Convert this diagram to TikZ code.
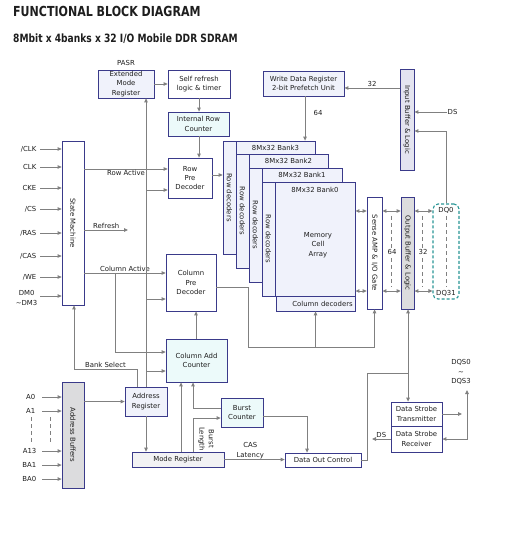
\documentclass[tikz,border=0pt]{standalone}
\usepackage{fontspec}
\setmainfont{DejaVu Sans}
\usepackage{graphicx}
\usetikzlibrary{arrows.meta,calc}
\definecolor{bord}{RGB}{58,58,138}
\definecolor{lin}{RGB}{128,128,128}
\definecolor{flav}{RGB}{240,242,251}
\definecolor{fcy}{RGB}{236,250,250}
\definecolor{fgr}{RGB}{220,220,222}
\definecolor{flg}{RGB}{242,242,244}
\definecolor{fib}{RGB}{228,228,240}
\definecolor{teal2}{RGB}{40,150,150}
\definecolor{txt}{RGB}{30,30,30}
\newcommand\bodyfont{\fontsize{6.9}{9.3}\selectfont}
\newcommand\mybox[7][]{%
  \node[box,#1,minimum width={(#5-#3)*1pt},minimum height={(#6-#4)*1pt}] (#2) at ({(#3+#5)/2},{(#4+#6)/2}) {#7};}
\tikzset{
  box/.style={draw=bord, line width=0.8pt, fill=white, inner sep=1pt, align=center, font=\bodyfont, text=txt},
  ln/.style={draw=lin, line width=0.9pt},
  arr/.style={ln, -{Triangle[length=4pt,width=3.6pt]}},
  darr/.style={ln, {Triangle[length=4pt,width=3.6pt]}-{Triangle[length=4pt,width=3.6pt]}},
  lbl/.style={font=\bodyfont, text=txt, inner sep=0.5pt, align=center},
}
\begin{document}
\begin{tikzpicture}[x=1pt,y=-1pt]
\fill[white] (0,0) rectangle (523,534);
\useasboundingbox (0,0) rectangle (523,534);

% titles
\node[anchor=base west, inner sep=0, text=txt] (title) at (13,17) {\scalebox{0.8}[1]{\fontsize{13.8}{16}\selectfont\bfseries FUNCTIONAL BLOCK DIAGRAM}};
\node[anchor=base west, inner sep=0, text=txt] (subtitle) at (13,43) {\scalebox{0.8}[1]{\fontsize{11.4}{14}\selectfont\bfseries 8Mbit x 4banks x 32 I/O Mobile DDR SDRAM}};

% boxes
\mybox[fill=flav]{emr}{98}{70}{154}{98}{Extended\\Mode\\Register}
\node[lbl] (pasr) at (126,63) {PASR};
\mybox{srl}{168}{70}{230}{98}{Self refresh\\logic \& timer}
\mybox[fill=fcy]{irc}{168}{112}{229}{136}{Internal Row\\Counter}
\mybox{rpd}{168}{158}{212}{198}{Row\\Pre\\Decoder}
\mybox{sm}{62}{141}{84}{305}{}
\node[lbl,rotate=-90] (smt) at (sm.center) {State Machine};
\mybox{cpd}{166}{254}{216}{311}{Column\\Pre\\Decoder}
\mybox[fill=fcy]{cac}{166}{339}{227}{382}{Column Add\\Counter}
\mybox[fill=fgr]{ab}{62}{382}{84}{488}{}
\node[lbl,rotate=-90] (abt) at (ab.center) {Address Buffers};
\mybox[fill=flav]{ar}{125}{387}{167}{416}{Address\\Register}
\mybox[fill=flg]{mr}{132}{452}{224}{467}{Mode Register}
\mybox[fill=fcy]{bc}{221}{398}{263}{427}{Burst\\Counter}
\mybox{doc}{285}{453}{361}{467}{Data Out Control}
\mybox{dst}{391}{402}{442}{426}{Data Strobe\\Transmitter}
\mybox{dsr}{391}{426}{442}{452}{Data Strobe\\Receiver}
\mybox[fill=flav]{wdr}{263}{71}{344}{96}{Write Data Register\\2-bit Prefetch Unit}
\mybox[fill=fib]{ib}{400}{69}{414}{170}{}
\node[lbl,rotate=-90] (ibt) at (ib.center) {Input Buffer \& Logic};
\mybox{sa}{367}{197}{382}{309}{}
\node[lbl,rotate=-90] (sat) at (sa.center) {Sense AMP \& I/O Gate};
\mybox[fill=fgr]{ob}{401}{197}{414}{309}{}
\node[lbl,rotate=-90] (obt) at (ob.center) {Output Buffer \& Logic};
\mybox[draw=teal2, line width=1.1pt, dash pattern=on 3pt off 2pt, rounded corners=5pt, fill=none]{dq}{433}{204}{459}{299}{}

% banks
\foreach \n/\L/\T/\B/\R in {3/223/141/254/315, 2/236/154/268/328, 1/249/168/282/342}{
  \mybox[fill=flav]{bank\n}{\L}{\T}{\R}{\B}{}
  \mybox[fill=flav]{rd\n}{\L}{\T}{\L+13}{\B}{}
  \node[lbl] (bl\n) at ({(\L+13+\R)/2},{\T+7}) {8Mx32 Bank\n};
  \node[lbl,rotate=-90] (rdt\n) at (rd\n.center) {Row decoders};
}
\mybox[fill=flav]{bank0}{262}{182}{355}{296}{}
\mybox[fill=flav]{rd0}{262}{182}{275}{296}{}
\node[lbl,rotate=-90] (rdt0) at (rd0.center) {Row decoders};
\node[lbl] (bl0) at (315,190) {8Mx32 Bank0};
\node[lbl] (mca) at (318,245) {Memory\\Cell\\Array};
\mybox[fill=flav]{coldec}{276}{296}{355}{311}{}
\node[lbl,anchor=east] (cdt) at ([xshift=-2pt]coldec.east) {Column decoders};

% helper coordinates
\coordinate (yRA) at (0,169);
\coordinate (yRP) at (0,190);
\coordinate (yRF) at (0,230);
\coordinate (yCA) at (0,273);
\coordinate (yCP) at (0,299);
\coordinate (yC1) at (0,352);
\coordinate (yC2) at (0,371);
\coordinate (yBS) at (0,369);
\coordinate (xA) at (146,0);
\coordinate (xC) at (115,0);
\coordinate (xB) at (74,0);
\coordinate (xB2) at (137,0);
\coordinate (rfEnd) at (128,230);

% state machine inputs
\coordinate (i1) at (40,149); \coordinate (i2) at (40,167); \coordinate (i3) at (40,188);
\coordinate (i4) at (40,209); \coordinate (i5) at (40,233); \coordinate (i6) at (40,256);
\coordinate (i7) at (40,277); \coordinate (i8) at (40,296);
\foreach \k in {1,...,8}{\draw[arr] (i\k) -- (sm.west |- i\k);}
\node[lbl,anchor=east] (t1) at (37,149) {/CLK};
\node[lbl,anchor=east] (t2) at (37,167) {CLK};
\node[lbl,anchor=east] (t3) at (37,188) {CKE};
\node[lbl,anchor=east] (t4) at (37,209) {/CS};
\node[lbl,anchor=east] (t5) at (37,233) {/RAS};
\node[lbl,anchor=east] (t6) at (37,256) {/CAS};
\node[lbl,anchor=east] (t7) at (37,277) {/WE};
\node[lbl,anchor=east] (t8) at (38,298) {DM0\\\textasciitilde DM3};

% address inputs
\coordinate (a1) at (42,397); \coordinate (a2) at (42,411); \coordinate (a3) at (42,451);
\coordinate (a4) at (42,465); \coordinate (a5) at (42,479);
\foreach \k in {1,...,5}{\draw[arr] (a\k) -- (ab.west |- a\k);}
\node[lbl,anchor=east] (u1) at (36,397) {A0};
\node[lbl,anchor=east] (u2) at (36,411) {A1};
\node[lbl,anchor=east] (u3) at (37,451) {A13};
\node[lbl,anchor=east] (u4) at (37,465) {BA1};
\node[lbl,anchor=east] (u5) at (37,479) {BA0};
\coordinate (d1a) at (31,417); \coordinate (d1b) at (31,443);
\coordinate (d2a) at (50,417); \coordinate (d2b) at (50,443);
\draw[ln,dash pattern=on 4pt off 3pt] (d1a) -- (d1b);
\draw[ln,dash pattern=on 4pt off 3pt] (d2a) -- (d2b);

% state machine outputs
\draw[arr] (sm.east |- yRA) -- (rpd.west |- yRA) node[lbl,midway,below] (lRA) {Row Active};
\draw[arr] (sm.east |- yRF) -- (rfEnd) node[lbl,midway,above] (lRF) {Refresh};
\draw[arr] (sm.east |- yCA) -- (cpd.west |- yCA) node[lbl,midway,above] (lCA) {Column Active};
\draw[arr] (xC |- yCA) -- (xC |- yC1) -- (cac.west |- yC1);

% address bus
\draw[arr] (ab.east |- ar.west) -- (ar.west);
\draw[arr] (ar.north -| xA) -- (emr.south -| xA);
\draw[arr] (xA |- yRP) -- (rpd.west |- yRP);
\draw[arr] (xA |- yCP) -- (cpd.west |- yCP);
\draw[arr] (xA |- yC2) -- (cac.west |- yC2);
\draw[arr] (ar.south -| xA) -- (mr.north -| xA);
\draw[arr] (ar.north -| xB2) -- (xB2 |- yBS) -- node[lbl,midway,above] (lBS) {Bank Select} (xB |- yBS) -- (sm.south -| xB);

% refresh path
\coordinate (x199) at (199,0);
\coordinate (y175) at (0,175);
\draw[arr] (emr.east) -- (srl.west);
\draw[arr] (srl.south -| x199) -- (irc.north -| x199);
\draw[arr] (irc.south -| x199) -- (rpd.north -| x199);
\draw[arr] (rpd.east |- y175) -- (rd3.west |- y175);

% column path
\coordinate (x196) at (196,0);
\coordinate (cpo1) at (248,287);
\coordinate (cpo2) at (248,347);
\draw[arr] (cac.north -| x196) -- (cpd.south -| x196);
\draw[arr] (cpd.east |- cpo1) -- (cpo1) -- (cpo2) -- (sa.south |- cpo2) -- (sa.south);
\draw[arr] (coldec.south |- cpo2) -- (coldec.south);

% mode register
\coordinate (x181) at (181,0);
\coordinate (x193) at (193,0);
\coordinate (y418) at (0,418);
\coordinate (y408) at (0,408);
\coordinate (x307) at (307,0);
\coordinate (y416) at (0,416);
\draw[arr] (mr.north -| x181) -- (cac.south -| x181);
\draw[arr] (mr.north -| x193) -- (x193 |- y418) -- (bc.west |- y418);
\draw[arr] (bc.west |- y408) -- (x193 |- y408) -- (cac.south -| x193);
\node[lbl,rotate=-90] (lBL) at (206,439) {Burst\\Length};
\draw[arr] (bc.east |- y416) -- (x307 |- y416) -- (doc.north -| x307);
\draw[arr] (mr.east) -- node[lbl,pos=0.43,above] (lCL) {CAS\\Latency} (doc.west |- mr.east);

% data out / strobe
\coordinate (xO) at (408,0);
\coordinate (jn) at (408,373);
\coordinate (dj1) at (367,0);
\draw[darr] (ob.south -| xO) -- (dst.north -| xO);
\draw[ln] (doc.east) -- (dj1 |- doc.east) -- (dj1 |- jn) -- (jn);
\coordinate (dqsA) at (462,414);
\draw[arr] (dst.east) -- (dqsA);
\coordinate (dq1) at (467,390);
\coordinate (dq2) at (467,439);
\draw[darr] (dq1) -- (dq2) -- (dsr.east);
\node[lbl] (lDQS) at (461,372) {DQS0\\\textasciitilde\\DQS3};
\coordinate (dsE) at (372,439);
\draw[arr] (dsr.west) -- node[lbl,midway,above] (lDS2) {DS} (dsE);

% write path
\coordinate (y88) at (0,88);
\coordinate (x305) at (305,0);
\draw[arr] (ib.west |- y88) -- node[lbl,midway,above] (l32a) {32} (wdr.east |- y88);
\draw[arr] (wdr.south -| x305) -- (bank3.north -| x305);
\node[lbl] (l64a) at (318,113) {64};
\coordinate (dsI) at (447,112);
\draw[arr] (dsI) -- (ib.east |- dsI);
\node[lbl,anchor=west] (lDS1) at (447,112) {DS};
\coordinate (x446) at (446,0);
\coordinate (y131) at (0,131);
\draw[arr] (dq.north -| x446) -- (x446 |- y131) -- (ib.east |- y131);

% data bus
\coordinate (y211) at (0,211);
\coordinate (y291) at (0,291);
\foreach \yy in {y211,y291}{
  \draw[darr] (bank0.east |- \yy) -- (sa.west |- \yy);
  \draw[darr] (sa.east |- \yy) -- (ob.west |- \yy);
  \draw[darr] (ob.east |- \yy) -- (dq.west |- \yy);
}
\coordinate (b1a) at (391,216); \coordinate (b1b) at (391,287);
\coordinate (b2a) at (422,216); \coordinate (b2b) at (422,287);
\coordinate (b3a) at (446,216); \coordinate (b3b) at (446,287);
\draw[ln,dash pattern=on 4pt off 3pt] (b1a) -- (b1b);
\draw[ln,dash pattern=on 4pt off 3pt] (b2a) -- (b2b);
\draw[ln,dash pattern=on 4pt off 3pt] (b3a) -- (b3b);
\node[lbl,fill=white] (l64b) at (392,252) {64};
\node[lbl,fill=white] (l32b) at (423,252) {32};
\node[lbl] (ldq0) at (446,210) {DQ0};
\node[lbl] (ldq31) at (446,293) {DQ31};
\end{tikzpicture}
\end{document}
